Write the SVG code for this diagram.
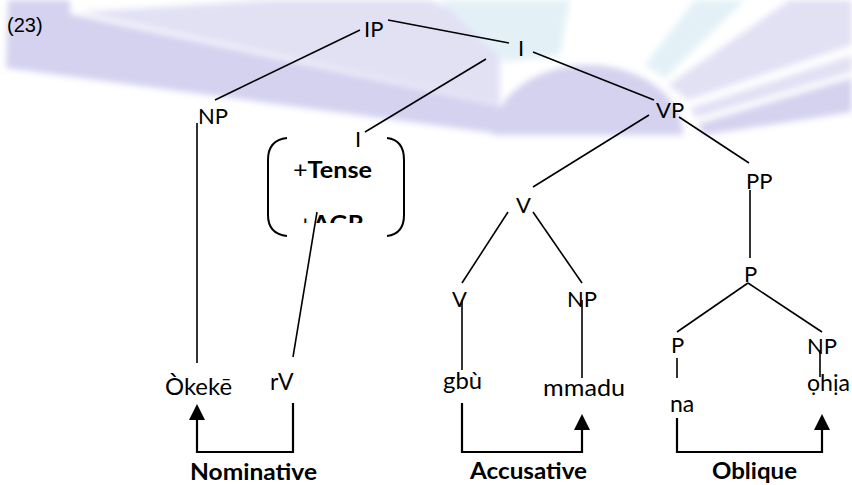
<svg xmlns="http://www.w3.org/2000/svg" width="852" height="485" viewBox="0 0 852 485">
<style>
.lbl{font-family:Lato,"Liberation Sans",sans-serif;font-size:22px;fill:#000}
.w{font-size:23px}
.b{font-weight:bold;font-size:23px}
.num{font-family:"Liberation Sans",Arial,sans-serif;font-size:20px;fill:#000}
.edge{stroke:#000;stroke-width:1.6;fill:none}
.arr{stroke:#000;stroke-width:2.2;fill:none}
.paren{stroke:#000;stroke-width:2;fill:none}
.wm{fill:#d4d2ef}
.wm2{fill:#e2e1f4}
.wmc{fill:#e3f1f7}
</style>
<defs>
<filter id="soft" x="-10%" y="-10%" width="120%" height="120%"><feGaussianBlur stdDeviation="3"/></filter>
<marker id="ah" markerUnits="userSpaceOnUse" viewBox="0 0 16 16" refX="0" refY="8" markerWidth="16" markerHeight="16" orient="auto"><path d="M0,0 L16,8 L0,16 Z" fill="#000"/></marker>
<clipPath id="agrclip"><rect x="280" y="190" width="100" height="33"/></clipPath>
</defs>
<rect width="852" height="485" fill="#fff"/>
<g id="watermark" filter="url(#soft)">
<polygon class="wm2" points="80,12 270,0 430,0 500,30 500,105"/>
<polygon class="wm" points="8,0 70,0 70,14 500,106 500,134 6,68"/>
<polygon class="wmc" points="440,0 570,0 560,55 505,62"/>
<polygon class="wmc" points="645,65 695,0 745,0 665,78"/>
<polygon class="wm2" points="668,85 790,0 852,0 852,45 688,100"/>
<polygon class="wm2" points="690,108 852,55 852,72 696,118"/>
<polygon class="wm" points="698,124 852,78 852,112 704,135"/>
<path class="wm" d="M493,135 A95,70 0 0 1 683,135 Z"/>
</g>
<text class="num" x="7" y="32">(23)</text>
<g id="connectors">
<line class="edge" x1="360" y1="30" x2="215" y2="100"/>
<line class="edge" x1="388" y1="20" x2="509" y2="43"/>
<line class="edge" x1="533" y1="52" x2="654" y2="100"/>
<line class="edge" x1="486" y1="59" x2="365" y2="132"/>
<line class="edge" x1="197" y1="123" x2="197" y2="363"/>
<line class="edge" x1="649" y1="115" x2="533" y2="187"/>
<line class="edge" x1="679" y1="117" x2="749" y2="163"/>
<line class="edge" x1="508" y1="212" x2="462" y2="283"/>
<line class="edge" x1="533" y1="212" x2="582" y2="283"/>
<line class="edge" x1="462" y1="300" x2="462" y2="370"/>
<line class="edge" x1="582" y1="300" x2="582" y2="378"/>
<line class="edge" x1="750" y1="190" x2="750" y2="258"/>
<line class="edge" x1="748" y1="283" x2="677" y2="332"/>
<line class="edge" x1="748" y1="283" x2="822" y2="332"/>
<line class="edge" x1="677" y1="358" x2="677" y2="378"/>
<line class="edge" x1="820" y1="350" x2="820" y2="377"/>
<line class="edge" x1="293" y1="357" x2="317" y2="212"/>
<path class="arr" d="M293,403 V452 H197 V420" marker-end="url(#ah)"/>
<path class="arr" d="M462,403 V452 H582 V430" marker-end="url(#ah)"/>
<path class="arr" d="M677,418 V452 H822 V430" marker-end="url(#ah)"/>
</g>
<g id="n-IP"><text class="lbl" x="364" y="37">IP</text></g>
<g id="n-Ibar"><text class="lbl" x="518" y="56">I</text></g>
<g id="n-NP1"><text class="lbl" x="198" y="124">NP</text></g>
<g id="n-I"><text class="lbl" x="355" y="147">I</text></g>
<g id="n-features">
<path class="paren" d="M287,138 Q268,140 268,160 V215 Q268,234 287,236"/>
<path class="paren" d="M387,138 Q404,140 404,160 V215 Q404,234 387,236"/>
<text class="lbl b" x="293" y="178" textLength="79" lengthAdjust="spacingAndGlyphs"><tspan font-weight="normal">+</tspan>Tense</text>
<text class="lbl b" x="298" y="232" textLength="66" lengthAdjust="spacingAndGlyphs" clip-path="url(#agrclip)"><tspan font-weight="normal">+</tspan>AGR</text>
</g>
<g id="n-VP"><text class="lbl" x="656" y="118">VP</text></g>
<g id="n-V1"><text class="lbl" x="516" y="213">V</text></g>
<g id="n-PP"><text class="lbl" x="746" y="189">PP</text></g>
<g id="n-V2"><text class="lbl" x="452" y="307">V</text></g>
<g id="n-NP2"><text class="lbl" x="567" y="307">NP</text></g>
<g id="n-P1"><text class="lbl" x="744" y="282">P</text></g>
<g id="n-P2"><text class="lbl" x="671" y="353">P</text></g>
<g id="n-NP3"><text class="lbl" x="807" y="354">NP</text></g>
<g id="n-okeke"><text class="lbl w" x="165" y="395" textLength="67" lengthAdjust="spacingAndGlyphs">Òkekē</text></g>
<g id="n-rV"><text class="lbl w" x="270" y="390">rV</text></g>
<g id="n-gbu"><text class="lbl w" x="443" y="389" textLength="39" lengthAdjust="spacingAndGlyphs">gbù</text></g>
<g id="n-mmadu"><text class="lbl w" x="543" y="396" textLength="82" lengthAdjust="spacingAndGlyphs">mmadu</text></g>
<g id="n-na"><text class="lbl w" x="670" y="412">na</text></g>
<g id="n-ohia"><text class="lbl w" x="807" y="391" textLength="43" lengthAdjust="spacingAndGlyphs">ọhịa</text></g>
<g id="l-nom"><text class="lbl b" x="190" y="480" textLength="127" lengthAdjust="spacingAndGlyphs">Nominative</text></g>
<g id="l-acc"><text class="lbl b" x="470" y="479" textLength="117" lengthAdjust="spacingAndGlyphs">Accusative</text></g>
<g id="l-obl"><text class="lbl b" x="712" y="479" textLength="85" lengthAdjust="spacingAndGlyphs">Oblique</text></g>
</svg>
